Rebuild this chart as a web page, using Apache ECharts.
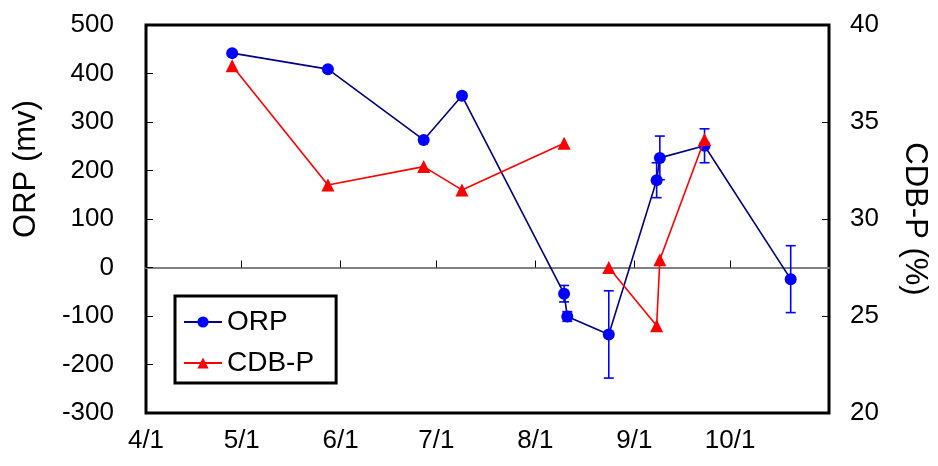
<!DOCTYPE html>
<html>
<head>
<meta charset="utf-8">
<script src="https://cdn.jsdelivr.net/npm/echarts@6/dist/echarts.min.js"></script>
<style>
  html, body { margin: 0; padding: 0; background: #fff; }
  #chart { width: 938px; height: 466px; }
</style>
</head>
<body>
<div id="chart"></div>
<script>
// sampling dates (month/day) and readings
const tickLabels = ['4/1', '5/1', '6/1', '7/1', '8/1', '9/1', '10/1'];
const axisEnd = '11/1';

const orpDates = ['4/28', '5/28', '6/27', '7/9', '8/10', '8/11', '8/24', '9/8', '9/9', '9/23', '10/20'];
const orpValues = [442, 409, 263, 354, -54, -101, -138, 180, 226, 251, -24];
const orpErrors = [0, 0, 0, 0, 17, 10, 90, 36, 45, 35, 69];

const cdbDates = ['4/28', '5/28', '6/27', '7/9', '8/10', '8/24', '9/8', '9/9', '9/23'];
const cdbValues = [37.9, 31.75, 32.7, 31.5, 33.9, 27.5, 24.5, 27.9, 34.1];
const cdbBreakAfter = 4; // line is not drawn between 8/10 and 8/24

// days counted from 4/1
function dayOf(md) {
  const p = md.split('/').map(Number);
  return (Date.UTC(2000, p[0] - 1, p[1]) - Date.UTC(2000, 3, 1)) / 86400000;
}

const tickDays = tickLabels.map(dayOf);
const labelByDay = {};
tickLabels.forEach(function (t, i) { labelByDay[tickDays[i]] = t; });

const orpData = orpDates.map(function (d, i) { return [dayOf(d), orpValues[i]]; });
const errData = [];
orpDates.forEach(function (d, i) {
  if (orpErrors[i] > 0) errData.push([dayOf(d), orpValues[i] - orpErrors[i], orpValues[i] + orpErrors[i]]);
});
const cdbData = [];
cdbDates.forEach(function (d, i) {
  cdbData.push([dayOf(d), cdbValues[i]]);
  if (i === cdbBreakAfter) cdbData.push(['-', '-']);
});

const FONT = "'Liberation Sans', Arial, sans-serif";

const chart = echarts.init(document.getElementById('chart'), null, { renderer: 'canvas' });

const option = {
  backgroundColor: '#fff',
  animation: false,
  textStyle: { fontFamily: FONT, color: '#000' },
  grid: {
    left: 146, right: 105, top: 25, bottom: 53,
    show: true,
    borderColor: '#000',
    borderWidth: 3,
    backgroundColor: 'transparent'
  },
  legend: {
    orient: 'vertical',
    left: 175,
    top: 296,
    padding: [12, 22, 6, 8],
    itemGap: 13,
    itemWidth: 38,
    itemHeight: 14,
    borderColor: '#000',
    borderWidth: 3,
    backgroundColor: '#fff',
    textStyle: { fontSize: 28, fontFamily: FONT, color: '#000' },
    data: ['ORP', 'CDB-P']
  },
  xAxis: [
    {
      type: 'value',
      min: 0,
      max: dayOf(axisEnd),
      position: 'bottom',
      axisLine: { show: false, onZero: false },
      axisTick: { show: false },
      splitLine: { show: false },
      axisLabel: {
        customValues: tickDays,
        formatter: function (v) { return labelByDay[v] || ''; },
        fontSize: 26,
        fontFamily: FONT,
        color: '#000',
        margin: 15
      }
    },
    {
      type: 'value',
      min: 0,
      max: dayOf(axisEnd),
      position: 'bottom',
      axisLine: { show: true, onZero: true, onZeroAxisIndex: 0, lineStyle: { color: '#808080', width: 2 } },
      axisTick: { show: true, inside: true, length: 7, customValues: tickDays, lineStyle: { color: '#000', width: 1 } },
      axisLabel: { show: false },
      splitLine: { show: false }
    }
  ],
  yAxis: [
    {
      type: 'value',
      position: 'left',
      min: -300,
      max: 500,
      interval: 100,
      name: 'ORP (mv)',
      nameLocation: 'middle',
      nameGap: 104,
      nameTextStyle: { fontSize: 31, fontFamily: FONT, color: '#000', padding: [0, 0, 0, 100] },
      axisLine: { show: false, onZero: false },
      axisTick: { show: true, inside: true, length: 7, lineStyle: { color: '#000', width: 1 } },
      splitLine: { show: false },
      axisLabel: { fontSize: 26, fontFamily: FONT, color: '#000', margin: 32 }
    },
    {
      type: 'value',
      position: 'right',
      min: 20,
      max: 40,
      interval: 5,
      name: 'CDB-P (%)',
      nameLocation: 'middle',
      nameRotate: -90,
      nameGap: 70,
      nameTextStyle: { fontSize: 31, fontFamily: FONT, color: '#000' },
      axisLine: { show: false, onZero: false },
      axisTick: { show: true, inside: true, length: 7, lineStyle: { color: '#000', width: 1 } },
      splitLine: { show: false },
      axisLabel: { fontSize: 26, fontFamily: FONT, color: '#000', margin: 21 }
    }
  ],
  series: [
    {
      name: 'ORP-err',
      type: 'custom',
      xAxisIndex: 0,
      yAxisIndex: 0,
      z: 3,
      encode: { x: 0, y: [1, 2] },
      data: errData,
      renderItem: function (params, api) {
        const x = api.value(0);
        const lo = api.coord([x, api.value(1)]);
        const hi = api.coord([x, api.value(2)]);
        const w = 5;
        const st = { stroke: '#0000ff', lineWidth: 1.6 };
        return {
          type: 'group',
          children: [
            { type: 'line', shape: { x1: lo[0], y1: lo[1], x2: hi[0], y2: hi[1] }, style: st },
            { type: 'line', shape: { x1: hi[0] - w, y1: hi[1], x2: hi[0] + w, y2: hi[1] }, style: st },
            { type: 'line', shape: { x1: lo[0] - w, y1: lo[1], x2: lo[0] + w, y2: lo[1] }, style: st }
          ]
        };
      }
    },
    {
      name: 'ORP',
      type: 'line',
      xAxisIndex: 0,
      yAxisIndex: 0,
      z: 4,
      data: orpData,
      symbol: 'circle',
      symbolSize: 12,
      itemStyle: { color: '#0000ff' },
      lineStyle: { color: '#000080', width: 1.6 }
    },
    {
      name: 'CDB-P',
      type: 'line',
      xAxisIndex: 0,
      yAxisIndex: 1,
      z: 5,
      data: cdbData,
      connectNulls: false,
      symbol: 'triangle',
      symbolSize: 13,
      itemStyle: { color: '#ff0000' },
      lineStyle: { color: '#ff0000', width: 1.6 }
    }
  ]
};

chart.setOption(option);
</script>
</body>
</html>
